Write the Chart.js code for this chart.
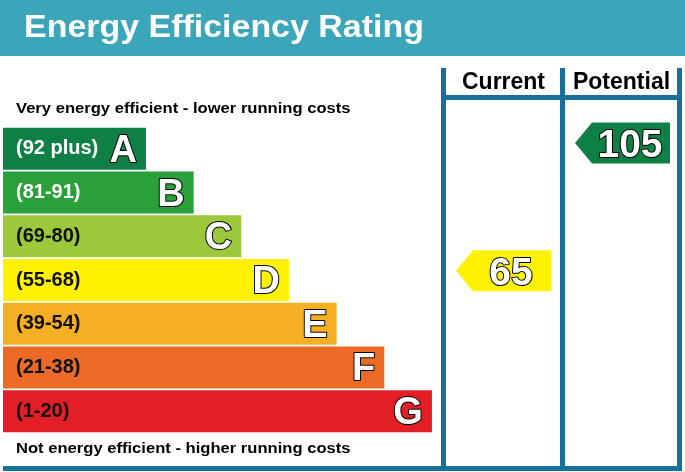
<!DOCTYPE html>
<html><head><meta charset="utf-8">
<style>html,body{margin:0;padding:0;background:#fff;overflow:hidden}canvas{display:block}</style>
<script src="https://cdn.jsdelivr.net/npm/chart.js@4.4.1/dist/chart.umd.min.js"></script>
</head><body>
<canvas id="c" width="685" height="472"></canvas>
<script>
// ---- data ----
const chartTitle = 'Energy Efficiency Rating';
const topCaption = 'Very energy efficient - lower running costs';
const bottomCaption = 'Not energy efficient - higher running costs';
const bandLetters = ['A', 'B', 'C', 'D', 'E', 'F', 'G'];
const bandRanges = ['(92 plus)', '(81-91)', '(69-80)', '(55-68)', '(39-54)', '(21-38)', '(1-20)'];
const bandMins = [92, 81, 69, 55, 39, 21, 1];
const bandLengths = [3, 4, 5, 6, 7, 8, 9];
const bandColors = ['#0f8045', '#29a03a', '#9bc93b', '#fff200', '#f6ae22', '#ec6a26', '#e31e27'];
const bandLabelColors = ['#ffffff', '#ffffff', '#111111', '#111111', '#111111', '#111111', '#111111'];
const columnTitles = ['Current', 'Potential'];
const ratingValues = [65, 105];

// ---- styling / layout ----
const FONT = '"Liberation Sans", Arial, Helvetica, sans-serif';
const HEADER_COLOR = '#3ba5ba';
const LINE_COLOR = '#17709a';
const COL_LINES = [441, 560, 677];
const LINE_W = 5;

function bandIndexFor(v) {
  for (let i = 0; i < bandMins.length; i++) if (v >= bandMins[i]) return i;
  return bandMins.length - 1;
}

function txt(ctx, s, x, y, size, color, align, sx, stroke, weight) {
  ctx.save();
  ctx.font = (weight || 'bold') + ' ' + size + 'px ' + FONT;
  ctx.textBaseline = 'alphabetic';
  ctx.textAlign = align || 'left';
  ctx.translate(x, y);
  ctx.scale(sx || 1, 1);
  if (stroke) {
    ctx.lineWidth = stroke;
    ctx.strokeStyle = '#000';
    ctx.lineJoin = 'round';
    ctx.strokeText(s, 0, 0);
  }
  ctx.fillStyle = color;
  ctx.fillText(s, 0, 0);
  ctx.restore();
}

const epcPlugin = {
  id: 'epc',
  beforeDraw(chart) {
    const ctx = chart.ctx;
    ctx.save();
    ctx.fillStyle = '#fff';
    ctx.fillRect(0, 0, chart.width, chart.height);
    ctx.fillStyle = HEADER_COLOR;
    ctx.fillRect(0, 0, chart.width, 56);
    ctx.restore();
    txt(ctx, chartTitle, 24, 37, 31, '#ffffff', 'left', 1.095);
    // table lines
    ctx.save();
    ctx.fillStyle = LINE_COLOR;
    COL_LINES.forEach(x => ctx.fillRect(x, 68, LINE_W, 403));
    ctx.fillRect(COL_LINES[0], 95, COL_LINES[2] + LINE_W - COL_LINES[0], 5);
    ctx.fillRect(3, 466, COL_LINES[2] + LINE_W - 3, 5);
    ctx.restore();
    // column titles
    for (let c = 0; c < columnTitles.length; c++) {
      const cx = (COL_LINES[c] + LINE_W + COL_LINES[c + 1]) / 2 + 0.5;
      txt(ctx, columnTitles[c], cx, 89, 23, '#000', 'center');
    }
    txt(ctx, topCaption, 16, 113, 15.5, '#000', 'left', 1.07);
    txt(ctx, bottomCaption, 16, 453, 15.5, '#000', 'left', 1.07);
  },
  afterDatasetsDraw(chart) {
    const ctx = chart.ctx;
    const meta = chart.getDatasetMeta(0);
    meta.data.forEach((bar, i) => {
      txt(ctx, bandRanges[i], 16, bar.y + 5.5, 20, bandLabelColors[i], 'left');
      txt(ctx, bandLetters[i], bar.x - 9, bar.y + 13, 38, '#ffffff', 'right', 1, 2, 'bold');
    });
    // rating arrows
    const ys = chart.scales.yv;
    ratingValues.forEach((v, c) => {
      const yc = ys.getPixelForValue(v);
      const left = COL_LINES[c] + LINE_W;
      const tip = left + 10, right = left + 105, depth = 17, h = 41;
      ctx.save();
      ctx.fillStyle = bandColors[bandIndexFor(v)];
      ctx.beginPath();
      ctx.moveTo(tip, yc);
      ctx.lineTo(tip + depth, yc - h / 2);
      ctx.lineTo(right, yc - h / 2);
      ctx.lineTo(right, yc + h / 2);
      ctx.lineTo(tip + depth, yc + h / 2);
      ctx.closePath();
      ctx.fill();
      ctx.restore();
      const cx = (tip + depth + right) / 2 - 1;
      txt(ctx, String(v), cx, yc + 14, 39, '#ffffff', 'center', 1, 2, 'bold');
    });
  }
};

new Chart(document.getElementById('c'), {
  type: 'bar',
  data: {
    labels: bandLetters,
    datasets: [{
      data: bandLengths,
      backgroundColor: bandColors,
      borderWidth: 0,
      barPercentage: 0.961,
      categoryPercentage: 1
    }]
  },
  options: {
    indexAxis: 'y',
    responsive: false,
    animation: false,
    devicePixelRatio: 1,
    layout: { padding: { left: 3, right: 0, top: 127, bottom: 39 } },
    plugins: { legend: { display: false }, tooltip: { enabled: false }, title: { display: false } },
    scales: {
      x: { type: 'linear', min: 0, max: 14.31, display: false },
      y: { type: 'category', display: false },
      yv: { type: 'linear', axis: 'y', position: 'right', min: 19, max: 105.2, display: false }
    }
  },
  plugins: [epcPlugin]
});
</script>
</body></html>
